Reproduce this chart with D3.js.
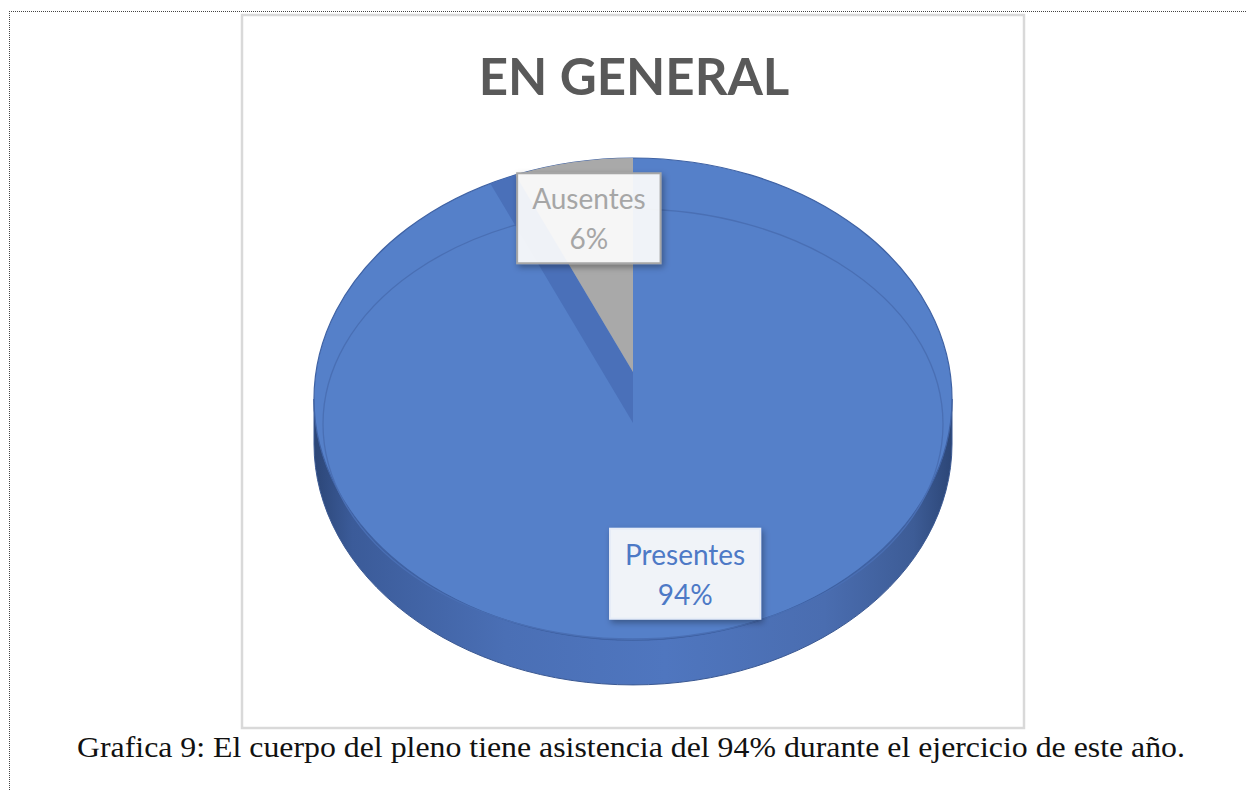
<!DOCTYPE html>
<html>
<head>
<meta charset="utf-8">
<script src="https://cdn.jsdelivr.net/npm/d3@7"></script>
<style>
  body { margin: 0; background: #fff; }
</style>
</head>
<body>
<div id="vis"></div>
<script>
// Chart data
const categories = ["Presentes", "Ausentes"];
const values = [94, 6];
const percentLabels = ["94%", "6%"];
const chartTitle = "EN GENERAL";
const caption = "Grafica 9: El cuerpo del pleno tiene asistencia del 94% durante el ejercicio de este año.";

// Layout
const W = 1246, H = 791;
const cx = 633, cy = 399, rx = 319, ry = 241, depth = 45;
const topColors = ["#5580c9", "#a9a9a9"];
const textColors = ["#4d79c6", "#a6a6a6"];
const boxStroke = ["#e6ecf7", "#a6a6a6"];

// project a pie angle (0 = 12 o'clock, clockwise) onto the tilted top face
function proj(a, k) {
  k = k === undefined ? 1 : k;
  return [cx + k * rx * Math.sin(a), cy - k * ry * Math.cos(a)];
}

const svg = d3.select("#vis").append("svg")
  .attr("width", W)
  .attr("height", H);

const defs = svg.append("defs");
const grad = defs.append("linearGradient")
  .attr("id", "side")
  .attr("gradientUnits", "userSpaceOnUse")
  .attr("x1", cx - rx).attr("x2", cx + rx)
  .attr("y1", 0).attr("y2", 0);
[[0, "#2c4677"], [0.06, "#3b5b99"], [0.3, "#4a6fb5"], [0.55, "#4f76bf"],
 [0.8, "#4a6db0"], [0.94, "#3d5c96"], [1, "#2c4677"]].forEach(s => {
  grad.append("stop").attr("offset", s[0]).attr("stop-color", s[1]);
});
const shadow = defs.append("filter").attr("id", "shadow")
  .attr("x", "-20%").attr("y", "-20%").attr("width", "140%").attr("height", "150%");
shadow.append("feDropShadow")
  .attr("dx", 2).attr("dy", 3).attr("stdDeviation", 3)
  .attr("flood-color", "#000").attr("flood-opacity", 0.35);

// page frame (dotted) and chart area border
svg.append("line").attr("x1", 9).attr("x2", W).attr("y1", 11.5).attr("y2", 11.5)
  .attr("stroke", "#444").attr("stroke-dasharray", "1,1");
svg.append("line").attr("x1", 9.5).attr("x2", 9.5).attr("y1", 11).attr("y2", H)
  .attr("stroke", "#444").attr("stroke-dasharray", "1,1");
svg.append("rect")
  .attr("x", 242).attr("y", 15).attr("width", 782).attr("height", 713)
  .attr("fill", "#fff").attr("stroke", "#d9d9d9").attr("stroke-width", 2.5);

svg.append("text")
  .attr("x", cx + 1).attr("y", 95)
  .attr("text-anchor", "middle")
  .attr("font-family", "Lato, 'Open Sans', sans-serif")
  .attr("font-weight", "bold")
  .attr("font-size", 51)
  .attr("fill", "#595959")
  .text(chartTitle);

const pie = d3.pie().sort(null).startAngle(0).endAngle(2 * Math.PI);
const arcs = pie(values);

// side wall
svg.append("path")
  .attr("d", `M${cx - rx},${cy} A${rx},${ry} 0 0 0 ${cx + rx},${cy}
              L${cx + rx},${cy + depth} A${rx},${ry} 0 0 1 ${cx - rx},${cy + depth} Z`)
  .attr("fill", "url(#side)")
  .attr("stroke", "#3a5892").attr("stroke-width", 1);

// top face (Presentes)
svg.append("ellipse")
  .attr("cx", cx).attr("cy", cy).attr("rx", rx).attr("ry", ry)
  .attr("fill", topColors[0])
  .attr("stroke", "#3f62a4").attr("stroke-width", 1.2);

// bevel line on the top face
svg.append("ellipse")
  .attr("cx", cx).attr("cy", cy + 25).attr("rx", rx - 9).attr("ry", ry - 26)
  .attr("fill", "none")
  .attr("stroke", "#4a6fb4").attr("stroke-width", 1.3);

// Ausentes slice, raised apex, with the visible radial wall of Presentes
const aus = arcs[1];
const G = [cx, cy - 27];    // apex of the Ausentes slice
const B = [cx, cy + 24];    // apex of the Presentes slice
const P2 = proj(aus.startAngle);
const T = proj(aus.endAngle);
// wall outer point: line from B parallel to G->P2, meeting the rim
const d = [P2[0] - G[0], P2[1] - G[1]];
const qa = (d[0] / rx) ** 2 + (d[1] / ry) ** 2;
const qb = 2 * ((B[0] - cx) * d[0] / rx ** 2 + (B[1] - cy) * d[1] / ry ** 2);
const qc = ((B[0] - cx) / rx) ** 2 + ((B[1] - cy) / ry) ** 2 - 1;
const t = (-qb + Math.sqrt(qb * qb - 4 * qa * qc)) / (2 * qa);
const P1 = [B[0] + t * d[0], B[1] + t * d[1]];

svg.append("path")
  .attr("d", `M${B} L${P1} A${rx},${ry} 0 0 1 ${P2} L${G} Z`)
  .attr("fill", "#4a70b9");

svg.append("path")
  .attr("d", `M${G} L${P2} A${rx},${ry} 0 0 1 ${T} Z`)
  .attr("fill", topColors[1]);

// data labels
const labelK = 0.755;
arcs.forEach((a, i) => {
  const mid = (a.startAngle + a.endAngle) / 2;
  const p = proj(mid, labelK);
  const g = svg.append("g").attr("transform", `translate(${p[0] + (i === 0 ? 7 : 1)},${p[1] - (i === 0 ? 4 : 2)})`);
  const box = g.append("rect").attr("filter", "url(#shadow)");
  const txt = g.append("text")
    .attr("text-anchor", "middle")
    .attr("font-family", "Lato, 'Open Sans', sans-serif")
    .attr("font-size", 28)
    .attr("fill", textColors[i]);
  txt.append("tspan").attr("x", 0).attr("y", -9).text(categories[i]);
  txt.append("tspan").attr("x", 0).attr("y", 31).text(percentLabels[i]);
  const bw = txt.node().getBBox().width + 30;
  box.attr("x", -bw / 2).attr("y", -45).attr("width", bw).attr("height", 90)
    .attr("fill", "#fff").attr("fill-opacity", 0.9)
    .attr("stroke", boxStroke[i]).attr("stroke-width", 2);
});

// caption
svg.append("text")
  .attr("x", 631).attr("y", 757)
  .attr("text-anchor", "middle")
  .attr("font-family", "'Liberation Serif', 'DejaVu Serif', serif")
  .attr("font-size", 30)
  .attr("fill", "#111")
  .attr("textLength", 1108)
  .attr("lengthAdjust", "spacingAndGlyphs")
  .text(caption);
</script>
</body>
</html>
